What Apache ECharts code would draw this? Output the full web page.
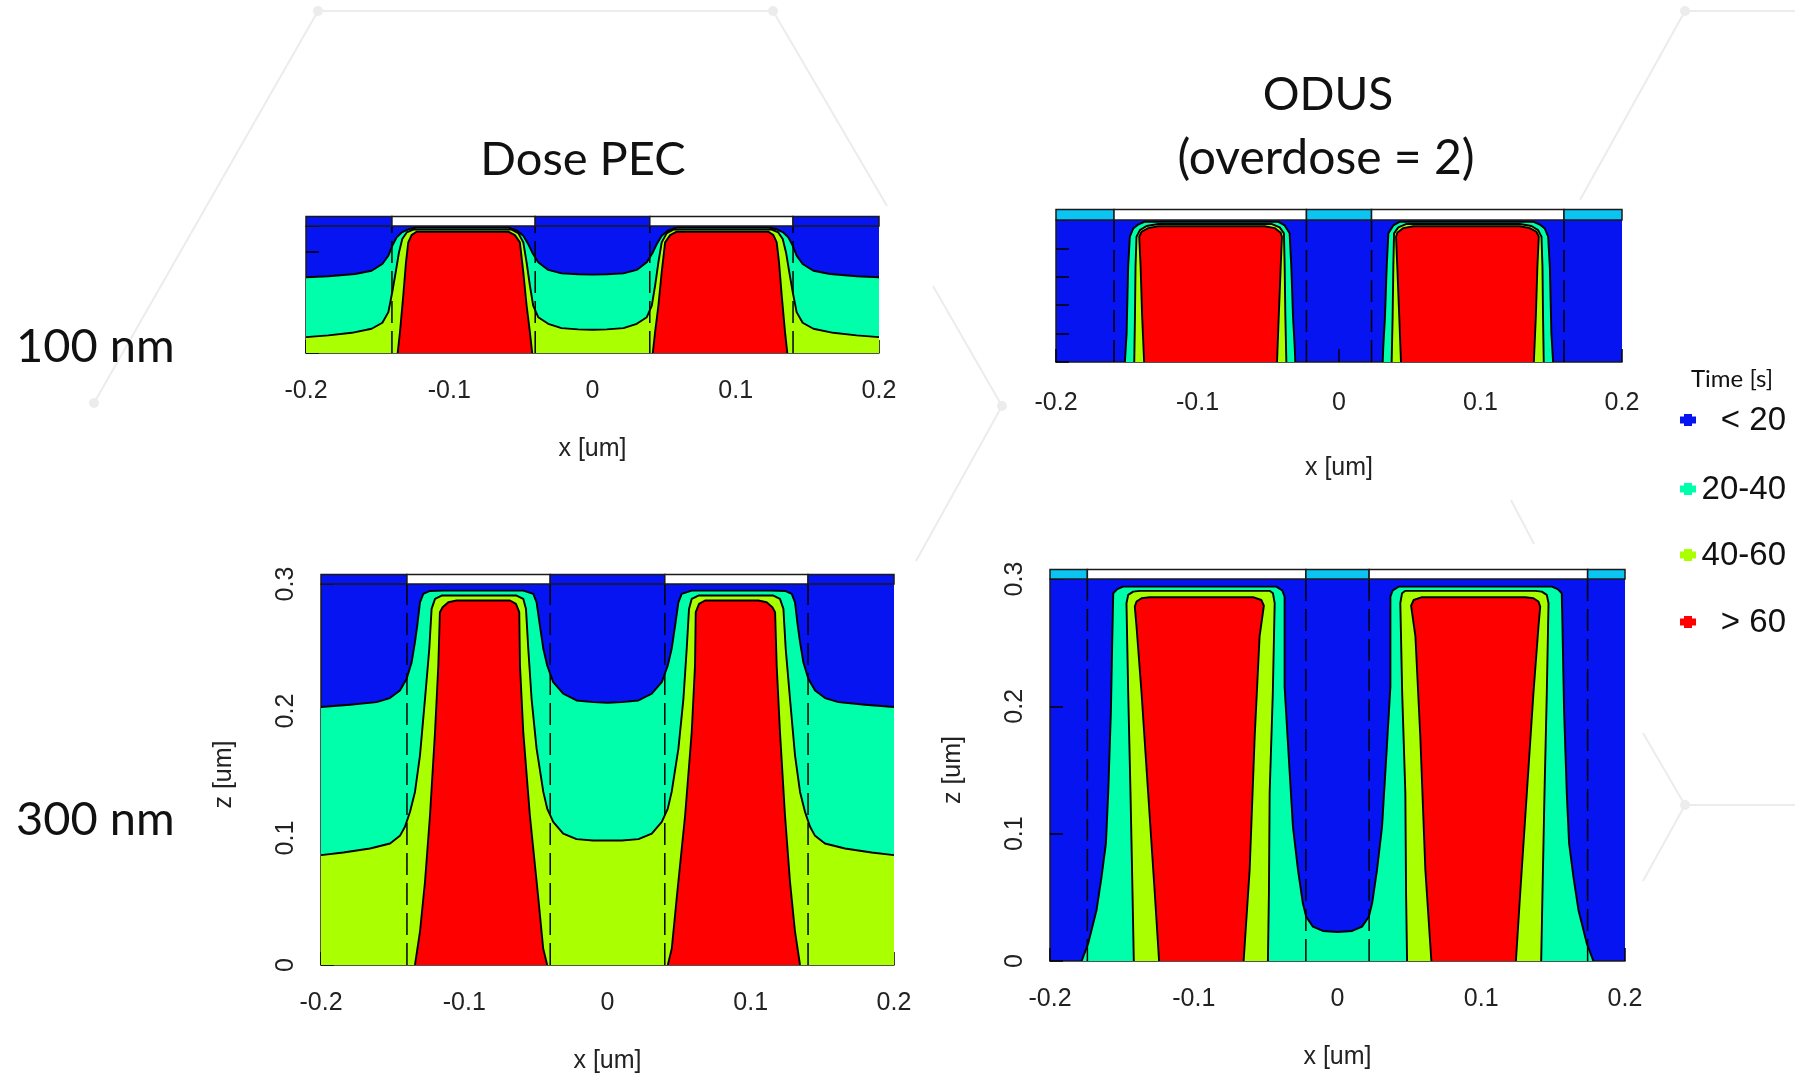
<!DOCTYPE html>
<html>
<head>
<meta charset="utf-8">
<script src="https://cdn.jsdelivr.net/npm/echarts@6/dist/echarts.min.js"></script>
<style>
  html, body { margin: 0; padding: 0; background: #ffffff; }
  #chart { width: 1795px; height: 1080px; }
</style>
</head>
<body>
<div id="chart"></div>
<script>
// ---- Exposure-time classes ----
const timeClasses = ['< 20', '20-40', '40-60', '> 60'];
const classColors = ['#0514f0', '#00ffaa', '#aaff00', '#ff0000'];
const xTicks = [-0.2, -0.1, 0, 0.1, 0.2];

// ---- Mask openings (x edges, um) and line-edge guides ----
const pecMaskEdges = [-0.2, -0.14, -0.04, 0.04, 0.14, 0.2];
const odus100MaskEdges = [-0.2, -0.159, -0.023, 0.023, 0.159, 0.2];
const odus300MaskEdges = [-0.2, -0.174, -0.022, 0.022, 0.174, 0.2];
const pecGuides = [-0.14, -0.04, 0.04, 0.14];
const odus100Guides = [-0.159, -0.023, 0.023, 0.159];
const odus300Guides = [-0.174, -0.022, 0.022, 0.174];

// ---- Dose PEC, 100 nm resist: contour boundaries [x, z] ----
const pec100Cyan = [
  [-0.2, 0.0596], [-0.1844, 0.0604], [-0.1658, 0.0622], [-0.1542, 0.0648], [-0.1467, 0.0701],
  [-0.1425, 0.0766], [-0.1398, 0.0844], [-0.1367, 0.091], [-0.1332, 0.0949], [-0.1286, 0.0974],
  [-0.1228, 0.0988], [-0.0588, 0.0988], [-0.053, 0.0966], [-0.0483, 0.0923], [-0.0449, 0.0858],
  [-0.0421, 0.0792], [-0.0379, 0.0714], [-0.0309, 0.0654], [-0.0216, 0.0627], [-0.01, 0.062],
  [0, 0.0617],
  [0.01, 0.062], [0.0216, 0.0627], [0.0309, 0.0654], [0.0379, 0.0714], [0.0421, 0.0792],
  [0.0449, 0.0858], [0.0483, 0.0923], [0.053, 0.0966], [0.0588, 0.0988], [0.1228, 0.0988],
  [0.1286, 0.0974], [0.1332, 0.0949], [0.1367, 0.091], [0.1398, 0.0844], [0.1425, 0.0766],
  [0.1467, 0.0701], [0.1542, 0.0648], [0.1658, 0.0622], [0.1844, 0.0604], [0.2, 0.0596]
];
const pec100Lime = [
  [-0.2, 0.0125], [-0.1844, 0.0139], [-0.1681, 0.0159], [-0.1542, 0.0191], [-0.1467, 0.0238],
  [-0.1425, 0.0322], [-0.1398, 0.0478], [-0.1374, 0.0635], [-0.1351, 0.0792], [-0.1328, 0.0897],
  [-0.1297, 0.0949], [-0.1251, 0.0972], [-0.0565, 0.0972], [-0.0518, 0.0944], [-0.0483, 0.0871],
  [-0.046, 0.0714], [-0.0437, 0.0531], [-0.0414, 0.0374], [-0.0379, 0.0282], [-0.0309, 0.023],
  [-0.0216, 0.0196], [-0.01, 0.0186], [0, 0.0183],
  [0.01, 0.0186], [0.0216, 0.0196], [0.0309, 0.023], [0.0379, 0.0282], [0.0414, 0.0374],
  [0.0437, 0.0531], [0.046, 0.0714], [0.0483, 0.0871], [0.0518, 0.0944], [0.0565, 0.0972],
  [0.1251, 0.0972], [0.1297, 0.0949], [0.1328, 0.0897], [0.1351, 0.0792], [0.1374, 0.0635],
  [0.1398, 0.0478], [0.1425, 0.0322], [0.1467, 0.0238], [0.1542, 0.0191], [0.1681, 0.0159],
  [0.1844, 0.0139], [0.2, 0.0125]
];
const pec100RedLeft = [
  [-0.136, 0], [-0.1344, 0.0165], [-0.1321, 0.0452], [-0.1302, 0.0714], [-0.1286, 0.0871],
  [-0.1263, 0.0928], [-0.1228, 0.0955], [-0.0588, 0.0955], [-0.0542, 0.0928], [-0.0507, 0.0871],
  [-0.0483, 0.0635], [-0.046, 0.0374], [-0.0437, 0.0165], [-0.0421, 0]
];
const pec100RedRight = [
  [0.0421, 0], [0.0437, 0.0165], [0.046, 0.0374], [0.0483, 0.0635], [0.0507, 0.0871],
  [0.0542, 0.0928], [0.0588, 0.0955], [0.1228, 0.0955], [0.1263, 0.0928], [0.1286, 0.0871],
  [0.1302, 0.0714], [0.1321, 0.0452], [0.1344, 0.0165], [0.136, 0]
];

// ---- ODUS (overdose = 2), 100 nm resist ----
const odus100CyanLeft = [
  [-0.1513, 0], [-0.1501, 0.02], [-0.149, 0.067], [-0.1478, 0.0882], [-0.1454, 0.0941],
  [-0.1419, 0.0968], [-0.1372, 0.0988], [-0.0431, 0.0988], [-0.0384, 0.0962], [-0.0349, 0.0906],
  [-0.0337, 0.067], [-0.0325, 0.0318], [-0.0313, 0.0106], [-0.0309, 0]
];
const odus100CyanRight = [
  [0.0309, 0], [0.0313, 0.0106], [0.0325, 0.0318], [0.0337, 0.067], [0.0349, 0.0906],
  [0.0384, 0.0962], [0.0431, 0.0988], [0.1372, 0.0988], [0.1419, 0.0968], [0.1454, 0.0941],
  [0.1478, 0.0882], [0.149, 0.067], [0.1501, 0.02], [0.1513, 0]
];
const odus100LimeLeft = [
  [-0.1447, 0], [-0.1442, 0.0318], [-0.1438, 0.067], [-0.1431, 0.0882], [-0.1407, 0.0929],
  [-0.136, 0.0958], [-0.1278, 0.0972], [-0.0478, 0.0972], [-0.0419, 0.0948], [-0.0389, 0.0906],
  [-0.0384, 0.067], [-0.0379, 0.0318], [-0.0372, 0]
];
const odus100LimeRight = [
  [0.0372, 0], [0.0379, 0.0318], [0.0384, 0.067], [0.0389, 0.0906], [0.0419, 0.0948],
  [0.0478, 0.0972], [0.1278, 0.0972], [0.136, 0.0958], [0.1407, 0.0929], [0.1431, 0.0882],
  [0.1438, 0.067], [0.1442, 0.0318], [0.1447, 0]
];
const odus100RedLeft = [
  [-0.1377, 0], [-0.1391, 0.0318], [-0.1402, 0.067], [-0.1412, 0.0882], [-0.1395, 0.0917],
  [-0.1348, 0.0943], [-0.1278, 0.0956], [-0.0525, 0.0956], [-0.0455, 0.0943], [-0.0412, 0.091],
  [-0.0403, 0.0882], [-0.0412, 0.067], [-0.0426, 0.0318], [-0.0438, 0]
];
const odus100RedRight = [
  [0.0438, 0], [0.0426, 0.0318], [0.0412, 0.067], [0.0403, 0.0882], [0.0412, 0.091],
  [0.0455, 0.0943], [0.0525, 0.0956], [0.1278, 0.0956], [0.1348, 0.0943], [0.1395, 0.0917],
  [0.1412, 0.0882], [0.1402, 0.067], [0.1391, 0.0318], [0.1377, 0]
];

// ---- Dose PEC, 300 nm resist ----
const pec300Cyan = [
  [-0.2, 0.2031], [-0.1798, 0.2049], [-0.1612, 0.207], [-0.1519, 0.2102], [-0.1449, 0.2162],
  [-0.1402, 0.2254], [-0.1367, 0.2385], [-0.1344, 0.2542], [-0.1328, 0.2673], [-0.1309, 0.2856],
  [-0.1286, 0.2922], [-0.1239, 0.2945], [-0.1146, 0.2948], [-0.0588, 0.2948], [-0.0518, 0.2922],
  [-0.0495, 0.2856], [-0.0472, 0.2673], [-0.0448, 0.249], [-0.0421, 0.2358], [-0.0379, 0.2227],
  [-0.0309, 0.2136], [-0.0216, 0.2083], [-0.01, 0.207], [0, 0.2065],
  [0.01, 0.207], [0.0216, 0.2083], [0.0309, 0.2136], [0.0379, 0.2227], [0.0421, 0.2358],
  [0.0448, 0.249], [0.0472, 0.2673], [0.0495, 0.2856], [0.0518, 0.2922], [0.0588, 0.2948],
  [0.1146, 0.2948], [0.1239, 0.2945], [0.1286, 0.2922], [0.1309, 0.2856], [0.1328, 0.2673],
  [0.1344, 0.2542], [0.1367, 0.2385], [0.1402, 0.2254], [0.1449, 0.2162], [0.1519, 0.2102],
  [0.1612, 0.207], [0.1798, 0.2049], [0.2, 0.2031]
];
const pec300Lime = [
  [-0.2, 0.0865], [-0.1844, 0.0886], [-0.1658, 0.0917], [-0.1518, 0.0957], [-0.1449, 0.1017],
  [-0.1414, 0.1088], [-0.1379, 0.1205], [-0.1344, 0.1363], [-0.1309, 0.1651], [-0.1274, 0.2096],
  [-0.1244, 0.249], [-0.1228, 0.2804], [-0.1204, 0.2883], [-0.1158, 0.2909], [-0.0635, 0.2909],
  [-0.0588, 0.2883], [-0.0569, 0.2804], [-0.0553, 0.249], [-0.053, 0.2096], [-0.0495, 0.1703],
  [-0.0448, 0.1363], [-0.0421, 0.1232], [-0.0379, 0.1127], [-0.0309, 0.1035], [-0.0216, 0.0991],
  [-0.01, 0.098], [0, 0.098],
  [0.01, 0.098], [0.0216, 0.0991], [0.0309, 0.1035], [0.0379, 0.1127], [0.0421, 0.1232],
  [0.0448, 0.1363], [0.0495, 0.1703], [0.053, 0.2096], [0.0553, 0.249], [0.0569, 0.2804],
  [0.0588, 0.2883], [0.0635, 0.2909], [0.1158, 0.2909], [0.1204, 0.2883], [0.1228, 0.2804],
  [0.1244, 0.249], [0.1274, 0.2096], [0.1309, 0.1651], [0.1344, 0.1363], [0.1379, 0.1205],
  [0.1414, 0.1088], [0.1449, 0.1017], [0.1518, 0.0957], [0.1658, 0.0917], [0.1844, 0.0886],
  [0.2, 0.0865]
];
const pec300RedLeft = [
  [-0.1344, 0], [-0.1309, 0.0262], [-0.1274, 0.0655], [-0.1239, 0.1179], [-0.1204, 0.1834],
  [-0.1181, 0.2358], [-0.117, 0.2778], [-0.1151, 0.2817], [-0.1111, 0.2856], [-0.1053, 0.287],
  [-0.0681, 0.287], [-0.0639, 0.2843], [-0.0616, 0.2778], [-0.0611, 0.2358], [-0.0588, 0.1834],
  [-0.0542, 0.1179], [-0.0483, 0.0524], [-0.0449, 0.0131], [-0.0421, 0]
];
const pec300RedRight = [
  [0.0421, 0], [0.0449, 0.0131], [0.0483, 0.0524], [0.0542, 0.1179], [0.0588, 0.1834],
  [0.0611, 0.2358], [0.0616, 0.2778], [0.0639, 0.2843], [0.0681, 0.287], [0.1053, 0.287],
  [0.1111, 0.2856], [0.1151, 0.2817], [0.117, 0.2778], [0.1181, 0.2358], [0.1204, 0.1834],
  [0.1239, 0.1179], [0.1274, 0.0655], [0.1309, 0.0262], [0.1344, 0]
];

// ---- ODUS (overdose = 2), 300 nm resist ----
const odus300Cyan = [
  [-0.178, 0], [-0.1734, 0.0139], [-0.1676, 0.0401], [-0.1641, 0.0662], [-0.1611, 0.0924],
  [-0.1595, 0.1317], [-0.1576, 0.1972], [-0.1565, 0.2626], [-0.156, 0.2888], [-0.1532, 0.292],
  [-0.1491, 0.294], [-0.0426, 0.294], [-0.0384, 0.291], [-0.0368, 0.2862], [-0.0368, 0.2155],
  [-0.0338, 0.1579], [-0.031, 0.1055], [-0.0275, 0.0715], [-0.0241, 0.0453], [-0.0218, 0.0348],
  [-0.0171, 0.027], [-0.0102, 0.0236], [0, 0.0228],
  [0.0102, 0.0236], [0.0171, 0.027], [0.0218, 0.0348], [0.0241, 0.0453], [0.0275, 0.0715],
  [0.031, 0.1055], [0.0338, 0.1579], [0.0368, 0.2155], [0.0368, 0.2862], [0.0384, 0.291],
  [0.0426, 0.294], [0.1491, 0.294], [0.1532, 0.292], [0.156, 0.2888], [0.1565, 0.2626],
  [0.1576, 0.1972], [0.1595, 0.1317], [0.1611, 0.0924], [0.1641, 0.0662], [0.1676, 0.0401],
  [0.1734, 0.0139], [0.178, 0]
];
const odus300LimeLeft = [
  [-0.1417, 0], [-0.1426, 0.0532], [-0.144, 0.1317], [-0.1456, 0.2103], [-0.1468, 0.281],
  [-0.1456, 0.2875], [-0.1421, 0.2901], [-0.1375, 0.2907], [-0.0472, 0.2907], [-0.0449, 0.2888],
  [-0.0437, 0.281], [-0.045, 0.2103], [-0.0472, 0.1317], [-0.0477, 0.0532], [-0.0484, 0]
];
const odus300LimeRight = [
  [0.0484, 0], [0.0477, 0.0532], [0.0472, 0.1317], [0.045, 0.2103], [0.0437, 0.281],
  [0.0449, 0.2888], [0.0472, 0.2907], [0.1375, 0.2907], [0.1421, 0.2901], [0.1456, 0.2875],
  [0.1468, 0.281], [0.1456, 0.2103], [0.144, 0.1317], [0.1426, 0.0532], [0.1417, 0]
];
const odus300RedLeft = [
  [-0.1241, 0], [-0.1271, 0.0532], [-0.1317, 0.1317], [-0.1363, 0.2103], [-0.1398, 0.2626],
  [-0.141, 0.2783], [-0.1398, 0.2823], [-0.1363, 0.2849], [-0.1306, 0.2857], [-0.0588, 0.2857],
  [-0.053, 0.2835], [-0.0512, 0.279], [-0.0542, 0.255], [-0.0576, 0.1765], [-0.0611, 0.072],
  [-0.0653, 0]
];
const odus300RedRight = [
  [0.0653, 0], [0.0611, 0.072], [0.0576, 0.1765], [0.0542, 0.255], [0.0512, 0.279],
  [0.053, 0.2835], [0.0588, 0.2857], [0.1306, 0.2857], [0.1363, 0.2849], [0.1398, 0.2823],
  [0.141, 0.2783], [0.1398, 0.2626], [0.1363, 0.2103], [0.1317, 0.1317], [0.1271, 0.0532],
  [0.1241, 0]
];

// ---- Rendering helpers ----
const MASK_THICKNESS = 0.0074;
const LINE = '#000000';
const FRAME = '#1a1a1a';
const ODUS_MASK_FILL = '#0cc4f2';

// Filled contour region; `band` regions close along the bottom corners of the plot.
function regionSeries(i, pts, fill, band) {
  const shape = band ? [[-0.2, 0]].concat(pts, [[0.2, 0]]) : pts;
  return {
    type: 'custom', xAxisIndex: i, yAxisIndex: i, silent: true, clip: true,
    data: pts,
    renderItem: function (params, api) {
      if (params.context.drawn) return;
      params.context.drawn = true;
      return {
        type: 'group',
        children: [
          { type: 'polygon', shape: { points: shape.map(p => api.coord(p)) },
            style: { fill: fill, stroke: 'none' } },
          { type: 'polyline', shape: { points: pts.map(p => api.coord(p)) },
            style: { fill: 'none', stroke: LINE, lineWidth: 1.9, lineJoin: 'round' } }
        ]
      };
    }
  };
}

// Dashed vertical guides at the mask line edges.
function guideSeries(i, xs, zTop) {
  return {
    type: 'custom', xAxisIndex: i, yAxisIndex: i, silent: true, z: 4,
    data: xs.map(x => [x, 0]),
    renderItem: function (params, api) {
      const a = api.coord([api.value(0), 0]);
      const b = api.coord([api.value(0), zTop]);
      return { type: 'line', shape: { x1: a[0], y1: a[1], x2: b[0], y2: b[1] },
        style: { stroke: LINE, lineWidth: 1.5, lineDash: [22, 8] } };
    }
  };
}

// Mask strip drawn above the resist top: openings white, covered parts coloured.
function maskSeries(i, edges, coverFill, zTop) {
  const segs = edges.slice(0, -1).map((x0, k) => [x0, edges[k + 1], k]);
  return {
    type: 'custom', xAxisIndex: i, yAxisIndex: i, silent: true, clip: false, z: 5,
    data: segs,
    renderItem: function (params, api) {
      const p0 = api.coord([api.value(0), zTop + MASK_THICKNESS]);
      const p1 = api.coord([api.value(1), zTop]);
      return { type: 'rect',
        shape: { x: p0[0], y: p0[1], width: p1[0] - p0[0], height: p1[1] - p0[1] },
        style: { fill: api.value(2) % 2 === 1 ? '#ffffff' : coverFill, stroke: FRAME, lineWidth: 1.5 } };
    }
  };
}

const panels = [
  { grid: { left: 306, top: 226, width: 573, height: 127 }, zTop: 0.1, zStep: 0.02, labels: false,
    labelMargin: 26, nameGap: 84, mask: pecMaskEdges, maskFill: classColors[0], guides: pecGuides,
    cyan: [pec100Cyan], cyanBand: true, lime: [pec100Lime], limeBand: true, red: [pec100RedLeft, pec100RedRight] },
  { grid: { left: 1056, top: 220, width: 566, height: 142 }, zTop: 0.1, zStep: 0.02, labels: false,
    labelMargin: 29, nameGap: 94, mask: odus100MaskEdges, maskFill: ODUS_MASK_FILL, guides: odus100Guides,
    cyan: [odus100CyanLeft, odus100CyanRight], cyanBand: false, lime: [odus100LimeLeft, odus100LimeRight], limeBand: false,
    red: [odus100RedLeft, odus100RedRight] },
  { grid: { left: 321, top: 584, width: 573, height: 381 }, zTop: 0.3, zStep: 0.1, labels: true,
    labelMargin: 26, nameGap: 84, mask: pecMaskEdges, maskFill: classColors[0], guides: pecGuides,
    cyan: [pec300Cyan], cyanBand: true, lime: [pec300Lime], limeBand: true, red: [pec300RedLeft, pec300RedRight] },
  { grid: { left: 1050, top: 579, width: 575, height: 382 }, zTop: 0.3, zStep: 0.1, labels: true,
    labelMargin: 26, nameGap: 84, mask: odus300MaskEdges, maskFill: ODUS_MASK_FILL, guides: odus300Guides,
    cyan: [odus300Cyan], cyanBand: false, lime: [odus300LimeLeft, odus300LimeRight], limeBand: false,
    red: [odus300RedLeft, odus300RedRight] }
];

const axisFont = { fontFamily: 'Liberation Sans', fontSize: 25, color: '#222222' };

const grids = [], xAxes = [], yAxes = [], series = [];
panels.forEach((p, i) => {
  grids.push(Object.assign({ show: true, backgroundColor: classColors[0], borderWidth: 0 }, p.grid));
  xAxes.push({
    type: 'value', gridIndex: i, min: xTicks[0], max: xTicks[xTicks.length - 1], interval: 0.1,
    axisLine: { show: true, onZero: false, lineStyle: { color: FRAME, width: 1.5 } },
    axisTick: { show: true, inside: true, length: 13, lineStyle: { color: LINE, width: 1.5 } },
    axisLabel: Object.assign({ margin: p.labelMargin }, axisFont),
    splitLine: { show: false },
    name: 'x [um]', nameLocation: 'middle', nameGap: p.nameGap, nameTextStyle: axisFont
  });
  yAxes.push({
    type: 'value', gridIndex: i, min: 0, max: p.zTop, interval: p.zStep,
    axisLine: { show: true, onZero: false, lineStyle: { color: FRAME, width: 1.5 } },
    axisTick: { show: true, inside: true, length: 13, lineStyle: { color: LINE, width: 1.5 } },
    axisLabel: Object.assign({ show: p.labels, rotate: 90, margin: 22 }, axisFont),
    splitLine: { show: false },
    name: p.labels ? 'z [um]' : '', nameLocation: 'middle', nameGap: 84, nameRotate: 90,
    nameTextStyle: axisFont
  });
  p.cyan.forEach(poly => series.push(regionSeries(i, poly, classColors[1], p.cyanBand)));
  p.lime.forEach(poly => series.push(regionSeries(i, poly, classColors[2], p.limeBand)));
  p.red.forEach(poly => series.push(regionSeries(i, poly, classColors[3], false)));
  series.push(guideSeries(i, p.guides, p.zTop));
  series.push(maskSeries(i, p.mask, p.maskFill, p.zTop));
});

// ---- Slide text, legend and faint background network ----
const slideFont = 'Lato';
const graphics = [];

const bgSegments = [
  [318, 11, 773, 11], [318, 11, 94, 403], [773, 11, 887, 206], [933, 286, 1002, 406],
  [1002, 406, 916, 561], [1685, 11, 1580, 200], [1685, 11, 1795, 11], [1685, 805, 1795, 805],
  [1685, 805, 1643, 881], [1643, 733, 1685, 805], [1511, 500, 1534, 544]
];
const bgNodes = [[318, 11], [773, 11], [1685, 11], [1002, 406], [1685, 805], [94, 403]];
bgSegments.forEach(s => graphics.push({ type: 'line', z: -10, silent: true,
  shape: { x1: s[0], y1: s[1], x2: s[2], y2: s[3] }, style: { stroke: '#ececec', lineWidth: 2 } }));
bgNodes.forEach(n => graphics.push({ type: 'circle', z: -10, silent: true,
  shape: { cx: n[0], cy: n[1], r: 5 }, style: { fill: '#ececec' } }));

function text(str, x, y, size, align, family) {
  graphics.push({ type: 'text', x: x, y: y, z: 10, silent: true,
    style: { text: str, fontFamily: family || slideFont, fontSize: size, fill: '#111111',
      textAlign: align || 'center', textVerticalAlign: 'middle' } });
}
text('Dose PEC', 583, 160, 47);
text('ODUS', 1328, 95, 46);
text('(overdose = 2)', 1326, 159, 48);
text('100 nm', 16, 347, 47, 'left');
text('300 nm', 16, 820, 47, 'left');
text('Time [s]', 1732, 379, 24);

const legendRows = [420, 489, 555, 622];
timeClasses.forEach((label, k) => {
  const cy = legendRows[k];
  graphics.push({ type: 'rect', z: 10, silent: true, shape: { x: 1680, y: cy - 3.5, width: 16, height: 7 },
    style: { fill: classColors[k] } });
  graphics.push({ type: 'rect', z: 10, silent: true, shape: { x: 1684, y: cy - 6, width: 8, height: 12 },
    style: { fill: classColors[k] } });
  text(label, 1786, cy + 1, 33, 'right', 'Liberation Sans');
});

const chart = echarts.init(document.getElementById('chart'), null, { renderer: 'canvas' });
chart.setOption({
  animation: false,
  backgroundColor: '#ffffff',
  grid: grids,
  xAxis: xAxes,
  yAxis: yAxes,
  series: series,
  graphic: { elements: graphics }
});
</script>
</body>
</html>
